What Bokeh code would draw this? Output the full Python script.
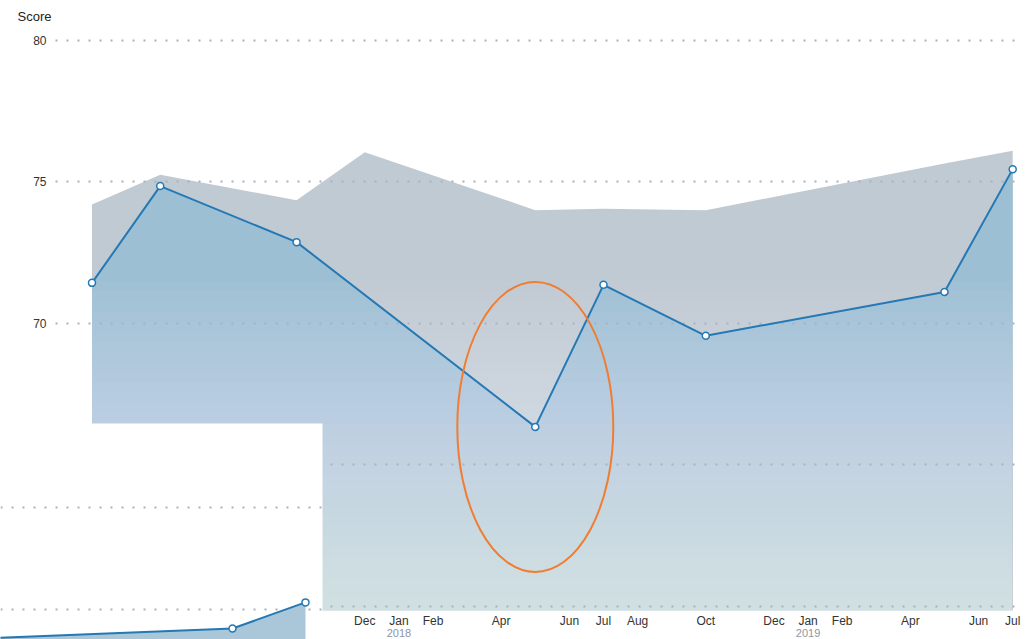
import numpy as np
from bokeh.plotting import figure
from bokeh.layouts import column
from bokeh.models import Range1d, FixedTicker, LinearAxis, Grid
from bokeh.embed import file_html
from bokeh.resources import INLINE

# ---------------- data (months counted from Jan 2017 = 0) ----------------
line_months = [3, 5, 9, 16, 18, 21, 28, 30]
line_scores = [71.43, 74.85, 72.87, 66.34, 71.36, 69.56, 71.11, 75.45]

bench_months = [3, 5, 9, 11, 16, 18, 21, 28, 30]
bench_scores = [74.2, 75.25, 74.35, 76.05, 74.0, 74.05, 74.0, 75.65, 76.1]

tick_months = [11, 12, 13, 15, 17, 18, 19, 21, 23, 24, 25, 27, 29, 30]
tick_labels = ["Dec", "Jan", "Feb", "Apr", "Jun", "Jul", "Aug", "Oct",
               "Dec", "Jan", "Feb", "Apr", "Jun", "Jul"]
year_months = [12, 24]
year_labels = ["2018", "2019"]
score_ticks = [60, 65, 70, 75, 80]

inset_months = [0, 8, 10]
inset_scores = [73.5, 74.07, 75.35]
inset_grid = [75, 80]

# ---------------- styles ----------------
FONT = "Liberation Sans"
BLUE = "#2478b4"
GRID = "#a9b1bd"
DOTS = "2 9"

p_main = figure(width=1025, height=639,
                x_range=Range1d(1.93, 30.17), y_range=Range1d(59.85, 80.35),
                output_backend="svg", toolbar_location=None, title="Score",
                min_border_left=55, min_border_right=7,
                min_border_top=30, min_border_bottom=28)
p_main.outline_line_color = None
p_main.background_fill_color = "white"
p_main.border_fill_color = "white"

t = p_main.title
t.text_font = FONT
t.text_font_size = "13px"
t.text_font_style = "normal"
t.text_color = "#222222"
t.offset = -38
t.standoff = 13

yax = p_main.yaxis[0]
yax.ticker = FixedTicker(ticks=score_ticks)
yax.axis_line_color = None
yax.major_tick_line_color = None
yax.major_tick_out = 0
yax.major_tick_in = 0
yax.minor_tick_line_color = None
yax.major_label_text_font = FONT
yax.major_label_text_font_size = "12px"
yax.major_label_text_color = "#333333"
yax.major_label_standoff = 9

xax = p_main.xaxis[0]
xax.ticker = FixedTicker(ticks=tick_months)
xax.major_label_overrides = dict(zip(tick_months, tick_labels))
xax.axis_line_color = None
xax.major_tick_line_color = None
xax.major_tick_out = 0
xax.major_tick_in = 0
xax.minor_tick_line_color = None
xax.major_label_text_font = FONT
xax.major_label_text_font_size = "12px"
xax.major_label_text_color = "#333333"
xax.major_label_standoff = 3

yr = LinearAxis(ticker=FixedTicker(ticks=year_months),
                major_label_overrides=dict(zip(year_months, year_labels)),
                axis_line_color=None, major_tick_line_color=None,
                major_tick_out=0, major_tick_in=0,
                minor_tick_line_color=None,
                major_label_text_font=FONT, major_label_text_font_size="11px",
                major_label_text_color="#8d96a5", major_label_standoff=-2)
p_main.add_layout(yr, "below")

p_main.xgrid.visible = False
g = p_main.ygrid[0]
g.grid_line_color = GRID
g.grid_line_dash = DOTS
g.grid_line_width = 2
g.level = "guide"

y0 = p_main.y_range.start
p_main.varea(x=bench_months, y1=y0, y2=bench_scores, fill_color="#c0cad3")
p_main.varea(x=line_months, y1=y0, y2=line_scores, fill_color="#9dbfd4")

# vertical fade (gradient emulation) over both areas
levels = np.linspace(71.5, 60.3, 32)
fade = 1 - (1 - 0.63) ** (1 / len(levels))
p_main.quad(left=bench_months[0], right=bench_months[-1], bottom=y0, top=levels,
            fill_color="white", fill_alpha=fade, line_color=None)

p_main.line(line_months, line_scores, line_color=BLUE, line_width=2, level="annotation")
p_main.scatter(line_months, line_scores, marker="circle", size=7,
               fill_color="white", line_color=BLUE, line_width=1.5, level="annotation")

dip = int(np.argmin(line_scores))
p_main.ellipse(x=[line_months[dip]], y=[line_scores[dip]], width=156, height=290,
               width_units="screen", height_units="screen",
               fill_color=None, line_color="#ef7d32", line_width=2, level="annotation")

# ---------------- inset (its frame is aligned with the main frame's borders) ----------------
p_in = figure(width=384, height=216,
              x_range=Range1d(1.644, 10.466), y_range=Range1d(73.53, 84.12),
              output_backend="svg", toolbar_location=None,
              x_axis_location=None, y_axis_location=None,
              min_border_left=55, min_border_right=7,
              min_border_top=0, min_border_bottom=0)
p_in.outline_line_color = None
p_in.background_fill_color = "white"
p_in.border_fill_alpha = 0
for gg in p_in.grid:
    gg.visible = False
p_in.add_layout(Grid(dimension=1, ticker=FixedTicker(ticks=inset_grid),
                     grid_line_color=GRID, grid_line_dash=DOTS, grid_line_width=2))
p_in.varea(x=inset_months, y1=73.0, y2=inset_scores, fill_color="#a9c7d9")
p_in.line(inset_months, inset_scores, line_color=BLUE, line_width=2)
p_in.scatter(inset_months, inset_scores, marker="circle", size=7,
             fill_color="white", line_color=BLUE, line_width=1.5)

p_main.styles = {"position": "absolute", "left": "0px", "top": "0px"}
p_in.styles = {"position": "absolute", "left": "-55px", "top": "423px"}
p = column(p_main, p_in, styles={"position": "static"})

open("out.html", "w").write(file_html(p, INLINE))
